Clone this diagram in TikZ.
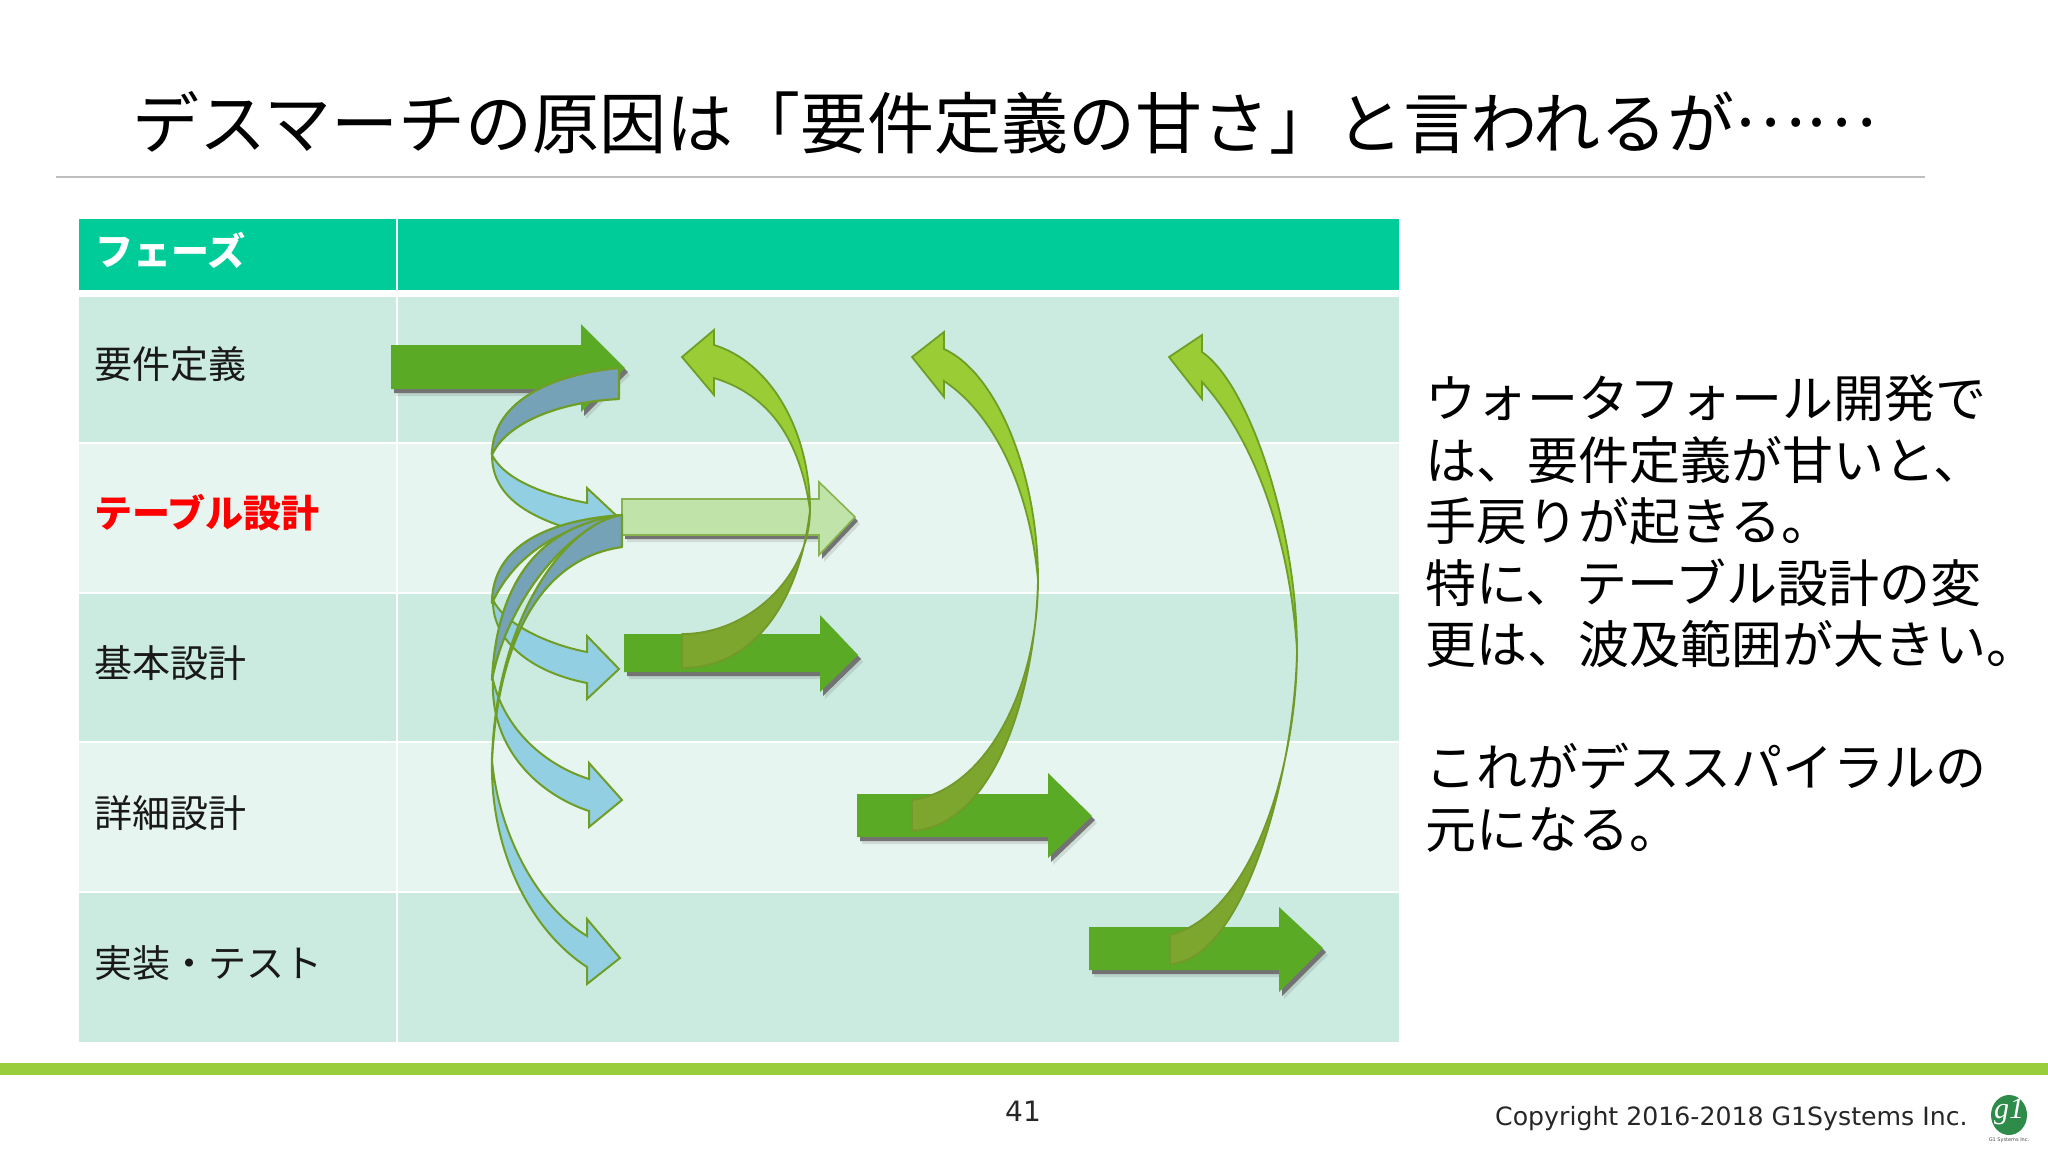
\documentclass[tikz,border=0pt]{standalone}
\usetikzlibrary{shapes.geometric}
\usepackage{fontspec}
\setmainfont{Noto Sans CJK JP}
\newfontfamily\latinfont{DejaVu Sans}
\newfontfamily\logofont{Liberation Serif}
\definecolor{headc}{HTML}{00CC99}
\definecolor{rowa}{HTML}{CCEBE0}
\definecolor{rowb}{HTML}{E6F5EF}
\definecolor{barc}{HTML}{5AAA26}
\definecolor{barlight}{HTML}{BFE3A8}
\definecolor{edgec}{HTML}{6F9E27}
\definecolor{bluelight}{HTML}{93CFE2}
\definecolor{bluedark}{HTML}{76A2B8}
\definecolor{limec}{HTML}{9ACD35}
\definecolor{limedark}{HTML}{7CA62E}
\definecolor{bandc}{HTML}{9ACD3C}
\definecolor{logoc}{HTML}{2E8B4A}
\tikzset{
  x=1pt,y=-1pt,
  rowlabel/.style={anchor=west,inner sep=0pt,font=\fontsize{38}{38}\selectfont,text=black!90},
  solidbar/.style={fill=barc},
  lightbar/.style={fill=barlight,draw=edgec!70!barlight,line width=1.6pt},
  bluehead/.style={fill=bluelight,draw=edgec,line width=2pt,line join=miter},
  blueband/.style={fill=bluedark,draw=edgec,line width=2.2pt,line join=round},
  limehead/.style={fill=limec,draw=edgec,line width=1.8pt,line join=miter},
  limetail/.style={fill=limedark,draw=limedark!92!black,line width=1.8pt,line join=round},
}
% #1 tail x, #2 top y, #3 bottom y, #4 base x, #5 head top y, #6 tip x, #7 tip y, #8 head bottom y, #9 style
\newcommand{\blockpath}[8]{(#1,#2) -- (#4,#2) -- (#4,#5) -- (#6,#7) -- (#4,#8) -- (#4,#3) -- (#1,#3) -- cycle}
\newcommand{\blockarrow}[9]{%
  \fill[black!55,opacity=.2,shift={(5,7)}] \blockpath{#1}{#2}{#3}{#4}{#5}{#6}{#7}{#8};
  \fill[black!55,shift={(3,4)}] \blockpath{#1}{#2}{#3}{#4}{#5}{#6}{#7}{#8};
  \path[#9] \blockpath{#1}{#2}{#3}{#4}{#5}{#6}{#7}{#8};
}
\begin{document}
\begin{tikzpicture}
\useasboundingbox (0,0) rectangle (2048,1152);
\fill[white] (0,0) rectangle (2048,1152);
% title
\node[anchor=base west,inner sep=0pt] (title) at (132,148) {\fontsize{67}{67}\selectfont デスマーチの原因は「要件定義の甘さ」と言われるが\raisebox{22pt}{……}};
\draw[black!25,line width=1.2pt] (56,177) -- (1925,177);
% table
\fill[headc] (79,219) rectangle (1399,290);
\fill[rowa] (79,297) rectangle (1399,443);
\fill[rowb] (79,443) rectangle (1399,593);
\fill[rowa] (79,593) rectangle (1399,742);
\fill[rowb] (79,742) rectangle (1399,892);
\fill[rowa] (79,892) rectangle (1399,1042);
\foreach \yy in {443,593,742,892} \draw[white,line width=2pt] (79,\yy) -- (1399,\yy);
\draw[white,line width=2pt] (397,219) -- (397,1042);
\node[rowlabel,text=white,font=\fontsize{38}{38}\selectfont\bfseries] (h) at (95,250) {フェーズ};
\node[rowlabel] (r1) at (94,364) {要件定義};
\node[rowlabel,text=red,font=\fontsize{38}{38}\selectfont\bfseries] (r2) at (94,513) {テーブル設計};
\node[rowlabel] (r3) at (94,663) {基本設計};
\node[rowlabel] (r4) at (94,813) {詳細設計};
\node[rowlabel] (r5) at (94,963) {実装・テスト};
% straight arrows
\blockarrow{391}{345}{389}{581}{324}{625}{368}{412}{solidbar}
\blockarrow{622}{499}{535}{819}{482}{855}{517}{555}{lightbar}
\blockarrow{624}{634}{672}{820}{615}{858}{655}{692}{solidbar}
\blockarrow{857}{794}{837}{1048}{773}{1092}{816}{858}{solidbar}
\blockarrow{1089}{927}{970}{1279}{907}{1323}{948}{992}{solidbar}
% blue curved arrows: heads
\path[bluehead] (492,455) .. controls (505,480) and (545,495) .. (587,503) -- (587,488) -- (620,519) -- (587,549) -- (587,534) .. controls (535,520) and (492,500) .. (492,455) -- cycle;
\path[bluehead] (493,600) .. controls (505,625) and (550,645) .. (587,652) -- (587,636) -- (619,669) -- (587,699) -- (587,683) .. controls (530,672) and (492,640) .. (493,600) -- cycle;
\path[bluehead] (493,680) .. controls (505,730) and (545,765) .. (589,779) -- (589,763) -- (622,800) -- (589,827) -- (589,811) .. controls (540,795) and (490,750) .. (493,680) -- cycle;
\path[bluehead] (492,760) .. controls (498,830) and (535,905) .. (587,936) -- (587,919) -- (620,958) -- (587,984) -- (587,967) .. controls (530,930) and (490,850) .. (492,760) -- cycle;
% blue curved arrows: bands
\path[blueband] (619,368) .. controls (545,375) and (492,405) .. (492,455) .. controls (505,425) and (555,402) .. (619,399) -- cycle;
\path[blueband] (622,515) .. controls (550,520) and (492,545) .. (492,603) .. controls (510,565) and (545,530) .. (622,515) -- cycle;
\path[blueband] (622,515) .. controls (545,525) and (497,575) .. (492,680) .. controls (505,610) and (560,530) .. (622,515) -- cycle;
\path[blueband] (622,515) .. controls (570,522) and (497,610) .. (492,760) .. controls (497,660) and (530,560) .. (622,547) -- cycle;
% lime curved arrows
\path[limetail] (682,634) .. controls (750,634) and (810,575) .. (810,510) .. controls (800,600) and (755,668) .. (682,668) -- cycle;
\path[limehead] (810,510) .. controls (800,440) and (770,395) .. (714,378) -- (714,395) -- (682,357) -- (714,330) -- (714,345) .. controls (770,362) and (810,430) .. (810,510) -- cycle;
\path[limetail] (912,800) .. controls (985,790) and (1038,690) .. (1038,580) .. controls (1036,680) and (1000,825) .. (912,831) -- cycle;
\path[limehead] (1038,580) .. controls (1030,490) and (995,415) .. (944,381) -- (944,397) -- (912,357) -- (944,332) -- (944,349) .. controls (995,372) and (1038,470) .. (1038,580) -- cycle;
\path[limetail] (1170,935) .. controls (1250,915) and (1297,770) .. (1297,650) .. controls (1295,770) and (1245,960) .. (1170,964) -- cycle;
\path[limehead] (1297,650) .. controls (1290,540) and (1255,440) .. (1202,382) -- (1202,399) -- (1169,357) -- (1202,335) -- (1202,352) .. controls (1250,385) and (1297,530) .. (1297,650) -- cycle;
% right text
\node[anchor=north west,inner sep=0pt,align=left,font=\fontsize{51}{61.5}\selectfont] (body) at (1425,375) {ウォータフォール開発で\\は、要件定義が甘いと、\\手戻りが起きる。\\特に、テーブル設計の変\\更は、波及範囲が大きい。\\ \mbox{}\\これがデススパイラルの\\元になる。};
% footer
\fill[bandc] (0,1063) rectangle (2048,1075);
\node[inner sep=0pt,font=\latinfont\fontsize{28}{28}\selectfont,text=black!85] (page) at (1023,1111) {41};
\node[anchor=west,inner sep=0pt,font=\latinfont\fontsize{25.2}{25.2}\selectfont,text=black!85] (copy) at (1495,1119) {Copyright 2016-2018 G1Systems Inc.};
\node[ellipse,minimum width=36pt,minimum height=40pt,inner sep=0pt,fill=logoc] (logo) at (2009,1115) {};
\node[inner sep=0pt,text=white,font=\logofont\itshape\fontsize{30}{30}\selectfont] (logotext) at (2009,1112) {g1};
\node[inner sep=0pt,font=\latinfont\fontsize{5}{5}\selectfont,text=black!70] (logoname) at (2009,1140) {G1 Systems Inc.};
\end{tikzpicture}
\end{document}
